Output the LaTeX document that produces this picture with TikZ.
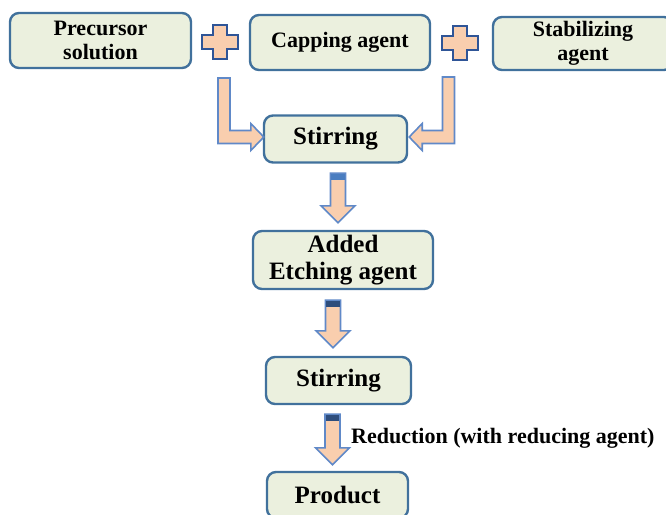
\documentclass[tikz,border=0pt]{standalone}
\usepackage{fontspec}
\setmainfont{Liberation Serif}
\usepackage{tikz}
\usetikzlibrary{calc}

\definecolor{boxfill}{HTML}{EBF0DE}
\definecolor{boxline}{HTML}{41719C}
\definecolor{arrfill}{HTML}{F9CEAE}
\definecolor{arrline}{HTML}{6089C8}
\definecolor{capmid}{HTML}{4A7DC0}
\definecolor{capdark}{HTML}{2E4D7C}
\definecolor{plusline}{HTML}{2F5597}

\tikzset{
	stepbox/.style={draw=boxline, fill=boxfill, line width=2.4pt, rounded corners=9pt,
		align=center, font=\bfseries\fontsize{25}{27.5}\selectfont, inner sep=0pt},
	topbox/.style={stepbox, minimum width=180pt, minimum height=55pt,
		font=\bfseries\fontsize{22}{23.5}\selectfont},
	blockarrow/.style={draw=arrline, fill=arrfill, line width=1.6pt, line join=miter},
	plusmark/.style={draw=plusline, fill=arrfill, line width=2pt}
}

% down arrow: #1 top of shaft, #2 point that fixes the tip height, #3 cap colour
\newcommand\downblock[3]{
	\draw[blockarrow] let \p1=#1, \p2=#2 in
		(\x1-7.5pt,\y1) -- (\x1+7.5pt,\y1) -- (\x1+7.5pt,\y2+17pt) -- (\x1+17pt,\y2+17pt)
		-- (\x1,\y2) -- (\x1-17pt,\y2+17pt) -- (\x1-7.5pt,\y2+17pt) -- cycle;
	\fill[#3] let \p1=#1 in (\x1-6.7pt,\y1-0.8pt) rectangle (\x1+6.7pt,\y1-6.5pt);
}
% bent arrow: #1 top of shaft, #2 tip, #3 side (1 right, -1 left)
\newcommand\bentblock[3]{
	\draw[blockarrow] let \p1=#1, \p2=#2 in
		({\x1-(#3)*6pt},\y1) -- ({\x1+(#3)*6pt},\y1) -- ({\x1+(#3)*6pt},\y2+6.5pt)
		-- ({\x2-(#3)*13pt},\y2+6.5pt) -- ({\x2-(#3)*13pt},\y2+13.5pt) -- (\x2,\y2)
		-- ({\x2-(#3)*13pt},\y2-13.5pt) -- ({\x2-(#3)*13pt},\y2-6.5pt)
		-- ({\x1-(#3)*6pt},\y2-6.5pt) -- cycle;
}
\newcommand\plusat[1]{
	\draw[plusmark] #1 ++(-7,-17) -- ++(14,0) -- ++(0,10) -- ++(11,0) -- ++(0,14)
		-- ++(-11,0) -- ++(0,10) -- ++(-14,0) -- ++(0,-10) -- ++(-11,0) -- ++(0,-14)
		-- ++(11,0) -- cycle;
}

\begin{document}
\begin{tikzpicture}[x=1pt,y=-1pt]
	\useasboundingbox (0,0) rectangle (666,514);

	% boxes
	\node[topbox, minimum width=181pt] (precursor) at (100.5,40.5) {Precursor\\solution};
	\node[topbox] (capping) at (340,42.5) {Capping agent};
	\node[topbox, minimum height=53pt] (stabil) at (583,43.5) {Stabilizing\\agent};
	\node[stepbox, minimum width=143pt, minimum height=47pt] (stir1) at (335.5,139) {Stirring};
	\node[stepbox, minimum width=180pt, minimum height=58pt] (added) at (343,260) {Added\\Etching agent};
	\node[stepbox, minimum width=145pt, minimum height=47pt] (stir2) at (338.5,380.5) {Stirring};
	\node[stepbox, minimum width=141pt, minimum height=46pt] (product) at (337.5,495) {Product};

	% plus signs
	\plusat{(220,42)}
	\plusat{(460,43)}

	% bent arrows into the first stirring
	\coordinate (leftdrop) at (224,78);
	\coordinate (rightdrop) at (448.5,77);
	\bentblock{(leftdrop)}{($(stir1.west)+(1,-2)$)}{1}
	\bentblock{(rightdrop)}{($(stir1.east)+(1,-2)$)}{-1}

	% down arrows
	\downblock{($(stir1.south)+(2.5,9.5)$)}{($(added.north)+(0,-7)$)}{capmid}
	\downblock{($(added.south)+(-10,10)$)}{($(stir2.north)+(0,-8)$)}{capdark}
	\downblock{($(stir2.south)+(-6,9)$)}{($(product.north)+(0,-6)$)}{capdark}

	\node[anchor=base west, inner sep=0pt, font=\bfseries\fontsize{22}{24}\selectfont]
		(redlabel) at (351,443) {Reduction (with reducing agent)};
\end{tikzpicture}
\end{document}
